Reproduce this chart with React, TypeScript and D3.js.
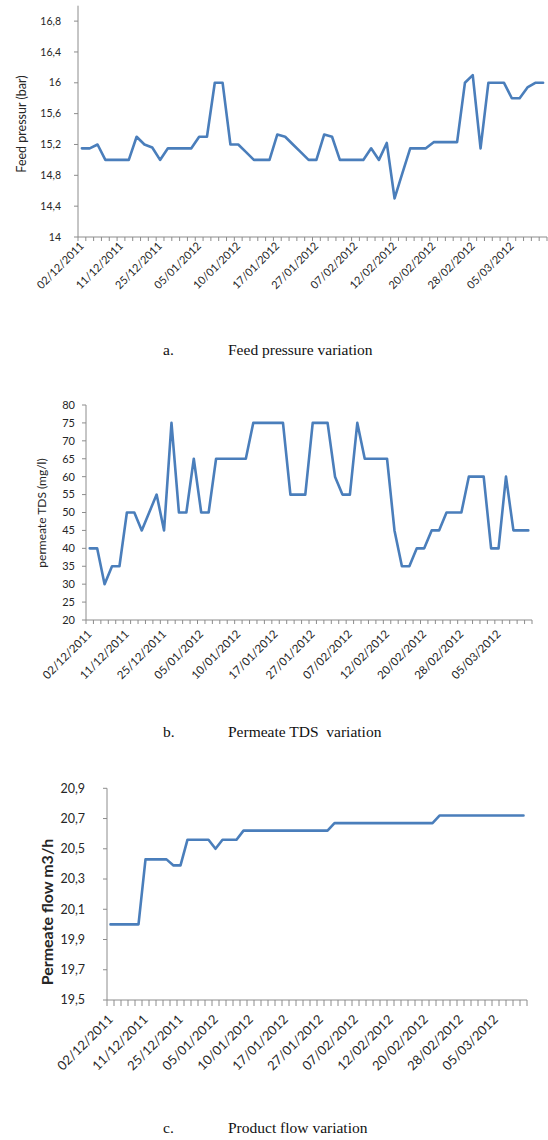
import React from "react";
import * as d3 from "d3";

// 60 daily samples; every fifth category carries a date label
const categoryCount = 60;
const labelStep = 5;
const dateLabels = [
  "02/12/2011", "11/12/2011", "25/12/2011", "05/01/2012", "10/01/2012", "17/01/2012",
  "27/01/2012", "07/02/2012", "12/02/2012", "20/02/2012", "28/02/2012", "05/03/2012",
];

// Feed pressure (bar)
const feedPressure = [
  15.15, 15.15, 15.2, 15.0, 15.0, 15.0, 15.0, 15.3, 15.2, 15.16,
  15.0, 15.15, 15.15, 15.15, 15.15, 15.3, 15.3, 16.0, 16.0, 15.2,
  15.2, 15.1, 15.0, 15.0, 15.0, 15.33, 15.3, 15.2, 15.1, 15.0,
  15.0, 15.33, 15.3, 15.0, 15.0, 15.0, 15.0, 15.15, 15.0, 15.22,
  14.5, 14.83, 15.15, 15.15, 15.15, 15.23, 15.23, 15.23, 15.23, 16.0,
  16.1, 15.15, 16.0, 16.0, 16.0, 15.8, 15.8, 15.94, 16.0, 16.0,
];

// Permeate TDS (mg/l)
const permeateTDS = [
  40, 40, 30, 35, 35, 50, 50, 45, 50, 55,
  45, 75, 50, 50, 65, 50, 50, 65, 65, 65,
  65, 65, 75, 75, 75, 75, 75, 55, 55, 55,
  75, 75, 75, 60, 55, 55, 75, 65, 65, 65,
  65, 45, 35, 35, 40, 40, 45, 45, 50, 50,
  50, 60, 60, 60, 40, 40, 60, 45, 45, 45,
];

// Permeate flow (m3/h)
const permeateFlow = [
  20.0, 20.0, 20.0, 20.0, 20.0, 20.43, 20.43, 20.43, 20.43, 20.39,
  20.39, 20.56, 20.56, 20.56, 20.56, 20.5, 20.56, 20.56, 20.56, 20.62,
  20.62, 20.62, 20.62, 20.62, 20.62, 20.62, 20.62, 20.62, 20.62, 20.62,
  20.62, 20.62, 20.67, 20.67, 20.67, 20.67, 20.67, 20.67, 20.67, 20.67,
  20.67, 20.67, 20.67, 20.67, 20.67, 20.67, 20.67, 20.72, 20.72, 20.72,
  20.72, 20.72, 20.72, 20.72, 20.72, 20.72, 20.72, 20.72, 20.72, 20.72,
];

const feedTicks = [14, 14.4, 14.8, 15.2, 15.6, 16, 16.4, 16.8];
const tdsTicks = [20, 25, 30, 35, 40, 45, 50, 55, 60, 65, 70, 75, 80];
const flowTicks = [19.5, 19.7, 19.9, 20.1, 20.3, 20.5, 20.7, 20.9];

const LINE_COLOR = "#4A7EBB";
const AXIS_COLOR = "#8C8C8C";
const TEXT_COLOR = "#262626";
const FONT = "Lato, 'Open Sans', sans-serif";

type PanelProps = {
  values: number[];
  domain: [number, number];
  ticks: number[];
  left: number;
  right: number;
  top: number;
  bottom: number;
  title: string;
  titleX: number;
  titleY: number;
  titleSize: number;
  titleBold?: boolean;
  tickLabelX: number;
  tickFont: number;
  xLabelGap: number;
  xLabelFont: number;
  xTickLen: number;
};

const fmt = (v: number) => String(+v.toFixed(1)).replace(".", ",");

function Panel(p: PanelProps) {
  const x = d3
    .scaleBand<number>()
    .domain(d3.range(categoryCount))
    .range([p.left, p.right])
    .paddingInner(0)
    .paddingOuter(0);
  const bw = x.bandwidth();
  const y = d3.scaleLinear().domain(p.domain).range([p.bottom, p.top]);
  const line = d3
    .line<number>()
    .x((_, i) => (x(i) as number) + bw / 2)
    .y((v) => y(v));

  const boundaries = d3.range(categoryCount + 1).map((i) => p.left + i * bw);

  return (
    <g>
      {/* value axis */}
      <line x1={p.left} x2={p.left} y1={p.top} y2={p.bottom} stroke={AXIS_COLOR} strokeWidth={1} />
      {p.ticks.map((t) => (
        <g key={`yt${t}`}>
          <line x1={p.left - 4} x2={p.left} y1={y(t)} y2={y(t)} stroke={AXIS_COLOR} />
          <text
            x={p.tickLabelX}
            y={y(t)}
            dy="0.35em"
            textAnchor="end"
            fontSize={p.tickFont}
            fontFamily={FONT}
            fill={TEXT_COLOR}
          >
            {fmt(t)}
          </text>
        </g>
      ))}
      <text
        transform={`translate(${p.titleX},${p.titleY}) rotate(-90)`}
        textAnchor="middle"
        dy="0.35em"
        fontSize={p.titleSize}
        fontWeight={p.titleBold ? "bold" : "normal"}
        fontFamily={FONT}
        fill={TEXT_COLOR}
      >
        {p.title}
      </text>

      {/* category axis */}
      <line x1={p.left} x2={p.right} y1={p.bottom} y2={p.bottom} stroke={AXIS_COLOR} strokeWidth={1} />
      {boundaries.map((bx, i) => (
        <line key={`xt${i}`} x1={bx} x2={bx} y1={p.bottom} y2={p.bottom + p.xTickLen} stroke={AXIS_COLOR} />
      ))}
      {dateLabels.map((d, k) => {
        const cx = (x(k * labelStep) as number) + bw / 2;
        const ly = p.bottom + p.xLabelGap;
        return (
          <text
            key={`xl${k}`}
            transform={`translate(${cx},${ly}) rotate(-45)`}
            textAnchor="end"
            dy="0.35em"
            fontSize={p.xLabelFont}
            fontFamily={FONT}
            fill={TEXT_COLOR}
          >
            {d}
          </text>
        );
      })}

      <path
        d={line(p.values) ?? ""}
        fill="none"
        stroke={LINE_COLOR}
        strokeWidth={2.6}
        strokeLinejoin="round"
        strokeLinecap="round"
      />
    </g>
  );
}

function Caption({ y, letter, text }: { y: number; letter: string; text: string }) {
  return (
    <g fontFamily="'Liberation Serif', 'Times New Roman', serif" fontSize={15.5} fill="#111">
      <text x={163} y={y}>{letter}</text>
      <text x={228} y={y} style={{ whiteSpace: "pre" }}>{text}</text>
    </g>
  );
}

export default function App() {
  return (
    <svg
      width={548}
      height={1140}
      viewBox="0 0 548 1140"
      style={{ position: "absolute", left: 0, top: 0, background: "#fff" }}
    >
      <rect width={548} height={1140} fill="#fff" />
      <Panel
        values={feedPressure}
        domain={[14, 17]}
        ticks={feedTicks}
        left={78}
        right={547}
        top={5.7}
        bottom={237}
        title="Feed pressur (bar)"
        titleX={22}
        titleY={124}
        titleSize={12.5}
        tickLabelX={61}
        tickFont={10.5}
        xLabelGap={7}
        xLabelFont={11}
        xTickLen={4}
      />
      <Caption y={355} letter="a." text="Feed pressure variation" />

      <Panel
        values={permeateTDS}
        domain={[20, 80]}
        ticks={tdsTicks}
        left={86}
        right={532}
        top={405}
        bottom={620}
        title="permeate TDS (mg/l)"
        titleX={42}
        titleY={513}
        titleSize={12}
        tickLabelX={75}
        tickFont={11}
        xLabelGap={12}
        xLabelFont={11.5}
        xTickLen={4}
      />
      <Caption y={737} letter="b." text="Permeate TDS  variation" />

      <Panel
        values={permeateFlow}
        domain={[19.5, 20.9]}
        ticks={flowTicks}
        left={107}
        right={527}
        top={788.3}
        bottom={1000}
        title="Permeate flow m3/h"
        titleX={47}
        titleY={912}
        titleSize={16}
        titleBold
        tickLabelX={85}
        tickFont={12.5}
        xLabelGap={17}
        xLabelFont={13}
        xTickLen={6}
      />
      <Caption y={1133} letter="c." text="Product flow variation" />
    </svg>
  );
}
